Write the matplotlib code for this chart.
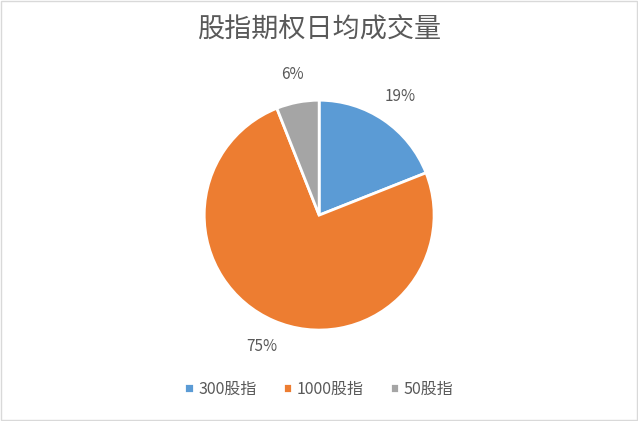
import matplotlib.pyplot as plt
from matplotlib.patches import Rectangle

plt.rcParams['font.family'] = ['Noto Sans CJK SC', 'DejaVu Sans']

labels = ['300股指', '1000股指', '50股指']
values = [19, 75, 6]
colors = ['#5B9BD5', '#ED7D31', '#A5A5A5']
text_color = '#595959'

fig = plt.figure(figsize=(6.38, 4.21), dpi=100)
ax = fig.add_axes([0.5 - 0.18, 0.489 - 0.273, 0.3605, 0.546])

wedges, texts, autotexts = ax.pie(
    values, colors=colors, startangle=90, counterclock=False,
    autopct='%1.0f%%', pctdistance=1.25,
    wedgeprops=dict(edgecolor='white', linewidth=2),
    textprops=dict(color=text_color, fontsize=11))
ax.set_xlim(-1, 1)
ax.set_ylim(-1, 1)
ax.set_aspect('equal')

fig.suptitle('股指期权日均成交量', x=0.5, y=0.96, fontsize=19.5, color=text_color)

fig.legend(wedges, labels, loc='center', bbox_to_anchor=(0.5, 0.076), ncol=3,
           frameon=False, fontsize=11.5, labelcolor=text_color,
           handlelength=0.6, handleheight=0.6, handletextpad=0.3, columnspacing=1.6)

fig.patches.append(Rectangle((0.002, 0.002), 0.996, 0.995, transform=fig.transFigure,
                             fill=False, edgecolor='#D9D9D9', linewidth=1))

fig.savefig('out.png', dpi=100)
